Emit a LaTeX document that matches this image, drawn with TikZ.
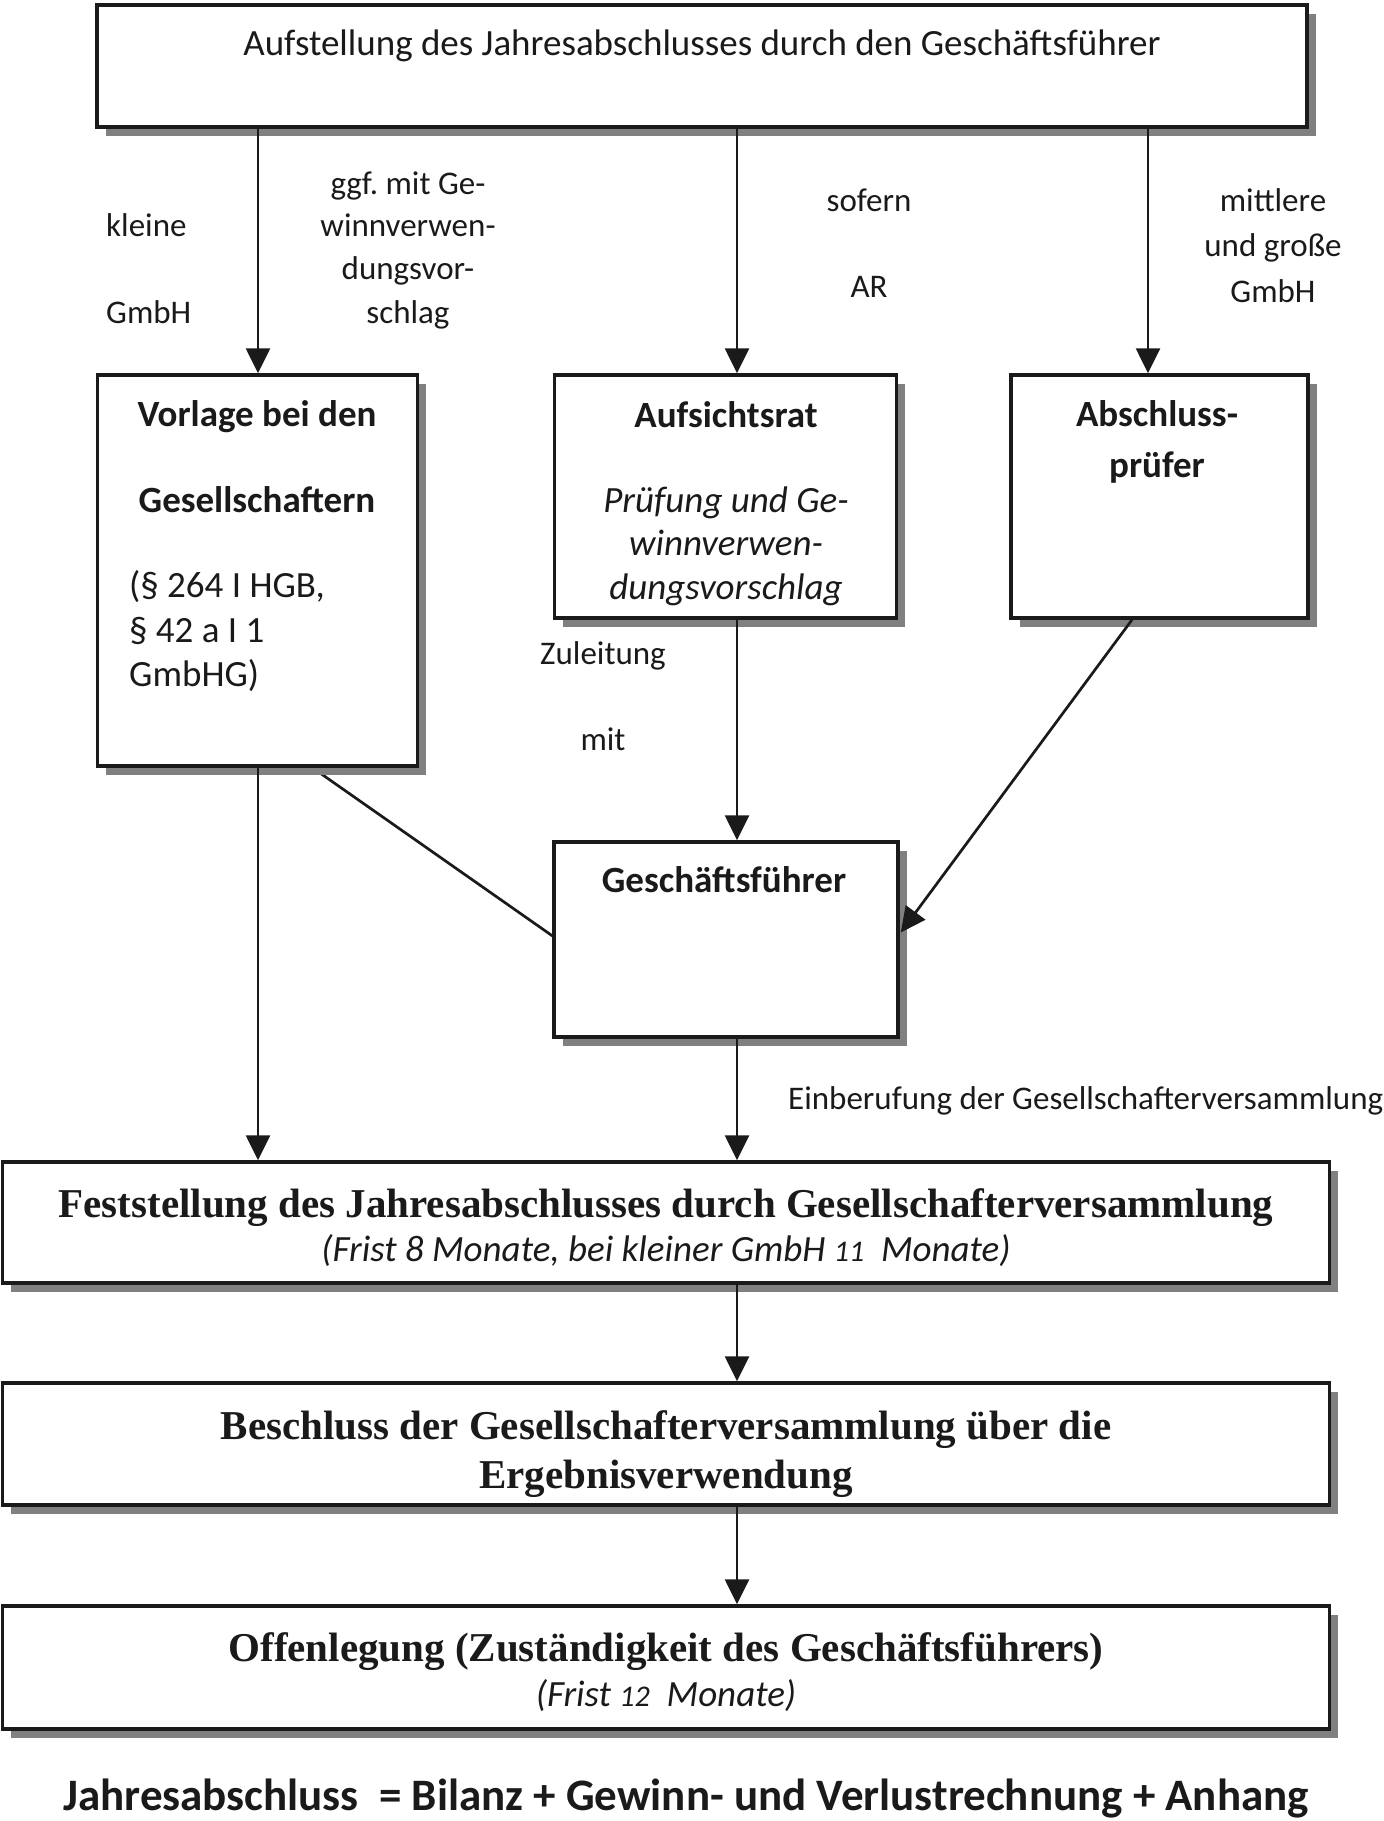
\documentclass[tikz,border=0pt]{standalone}
\usepackage{fontspec}
\setmainfont{Carlito}
\newfontfamily\tnr{Liberation Serif}
\usetikzlibrary{arrows.meta,shadows,calc}
\definecolor{shadowgray}{HTML}{808080}
\definecolor{ink}{HTML}{1A1A1A}
\frenchspacing
\tikzset{
  box/.style={draw=ink, line width=3.5pt, fill=white, inner sep=0pt,
    drop shadow={shadow xshift=8.5pt, shadow yshift=-8.5pt, fill=shadowgray, opacity=1}},
  arr/.style={draw=ink, line width=2.7pt, -{Triangle[length=25pt,width=24pt]}},
  plain/.style={draw=ink, line width=2.7pt},
  t/.style={anchor=base, inner sep=0pt, text=ink, font=\fontsize{33}{40}\selectfont},
  tl/.style={anchor=base west, inner sep=0pt, text=ink, font=\fontsize{33}{40}\selectfont},
  bt/.style={t, font=\fontsize{37}{44}\selectfont},
  btl/.style={tl, font=\fontsize{37}{44}\selectfont},
  tb/.style={t, font=\fontsize{37}{44}\selectfont\bfseries},
  ti/.style={t, font=\fontsize{37}{44}\selectfont\itshape},
  ts/.style={t, font=\fontsize{41}{48}\selectfont\tnr\bfseries},
}
\begin{document}
\begin{tikzpicture}[x=1pt,y=-1pt]
\useasboundingbox (0,0) rectangle (1384,1821);
% column coordinates
\coordinate (xl) at (258,0);
\coordinate (xm) at (737,0);
\coordinate (xr) at (1148,0);
% connector drawn below the boxes
\draw[plain] (310,766) coordinate (vlA) -- (554,937) coordinate (vlB);
% boxes
\node[box, minimum width=1210pt, minimum height=122pt] (top) at (702,66) {};
\node[box, minimum width=320pt, minimum height=391pt] (vor) at (257.5,570.5) {};
\node[box, minimum width=342pt, minimum height=243pt] (auf) at (725.5,496.5) {};
\node[box, minimum width=297pt, minimum height=243pt] (abs) at (1159.5,496.5) {};
\node[box, minimum width=344pt, minimum height=195pt] (gf) at (726,939.5) {};
\node[box, minimum width=1327pt, minimum height=121pt] (fest) at (666,1222.5) {};
\node[box, minimum width=1327pt, minimum height=122pt] (besch) at (666,1444) {};
\node[box, minimum width=1327pt, minimum height=123pt] (offen) at (666,1667.5) {};
% arrows
\draw[arr] (top.south -| xl) -- (vor.north -| xl);
\draw[arr] (top.south -| xm) -- (auf.north -| xm);
\draw[arr] (top.south -| xr) -- (abs.north -| xr);
\draw[arr] (auf.south -| xm) -- (gf.north -| xm);
\draw[arr] (vor.south -| xl) -- (fest.north -| xl);
\draw[arr] (gf.south -| xm) -- (fest.north -| xm);
\draw[arr] (fest.south -| xm) -- (besch.north -| xm);
\draw[arr] (besch.south -| xm) -- (offen.north -| xm);
\draw[arr] ($(abs.south)+(-27.5,0)$) -- ($(gf.east)+(1,-7)$);
% texts
\node[bt] (ttop) at (702,55) {Aufstellung des Jahresabschlusses durch den Geschäftsführer};
\node[tl] (k1) at (106,236) {kleine};
\node[tl] (k2) at (106,323) {GmbH};
\node[t] (g1) at (408,194) {ggf. mit Ge-};
\node[t] (g2) at (408,236) {winnverwen-};
\node[t] (g3) at (408,279) {dungsvor-};
\node[t] (g4) at (408,323) {schlag};
\node[t] (s1) at (869,211) {sofern};
\node[t] (s2) at (869,297) {AR};
\node[t] (m1) at (1273,211) {mittlere};
\node[t] (m2) at (1273,256) {und große};
\node[t] (m3) at (1273,302) {GmbH};
\node[tb] (v1) at (257,426) {Vorlage bei den};
\node[tb] (v2) at (257,512) {Gesellschaftern};
\node[btl] (v3) at (129,597) {(§ 264 I HGB,};
\node[btl] (v4) at (129,642) {§ 42 a I 1};
\node[btl] (v5) at (129,686) {GmbHG)};
\node[tb] (a1) at (726,427) {Aufsichtsrat};
\node[ti] (a2) at (726,512) {Prüfung und Ge-};
\node[ti] (a3) at (726,555) {winnverwen-};
\node[ti] (a4) at (726,599) {dungsvorschlag};
\node[tb] (b1) at (1157,426) {Abschluss-};
\node[tb] (b2) at (1157,477) {prüfer};
\node[t] (z1) at (603,664) {Zuleitung};
\node[t] (z2) at (603,750) {mit};
\node[tb] (gft) at (724,892) {Geschäftsführer};
\node[tl] (ein) at (788,1109) {Einberufung der Gesellschafterversammlung};
\node[ts] (f1) at (666,1217) {Feststellung des Jahresabschlusses durch Gesellschafterversammlung};
\node[ti] (f2) at (666,1261) {(Frist 8 Monate, bei kleiner GmbH {\fontsize{30}{34}\selectfont 11}\ \ Monate)};
\node[ts] (be1) at (666,1439.5) {Beschluss der Gesellschafterversammlung über die};
\node[ts] (be2) at (666,1488.5) {Ergebnisverwendung};
\node[ts] (o1) at (666,1661) {Offenlegung (Zuständigkeit des Geschäftsführers)};
\node[ti] (o2) at (666,1706) {(Frist {\fontsize{30}{34}\selectfont 12}\ \ Monate)};
\node[t, font=\fontsize{45}{52}\selectfont\bfseries] (jb) at (686,1810) {Jahresabschluss\ \ = Bilanz + Gewinn- und Verlustrechnung + Anhang};
\end{tikzpicture}
\end{document}
